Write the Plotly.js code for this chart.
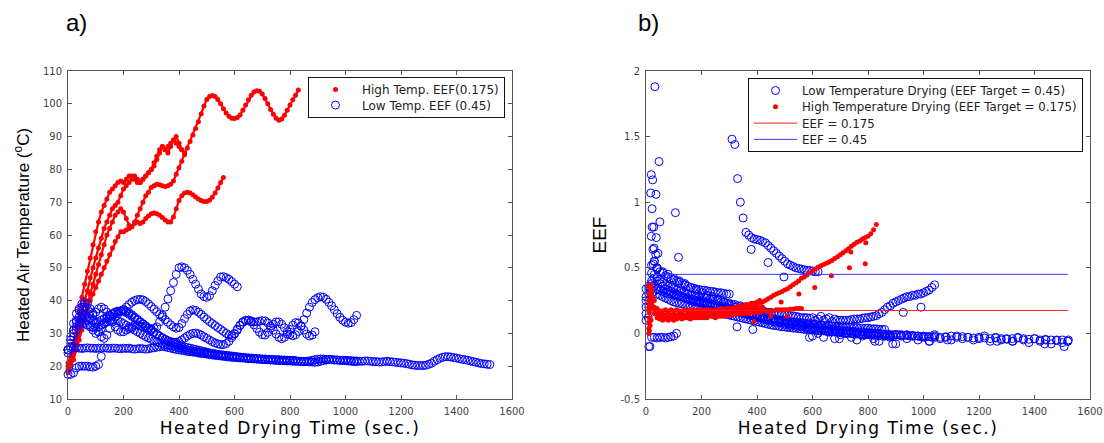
<!DOCTYPE html>
<html><head><meta charset="utf-8">
<script src="https://cdn.plot.ly/plotly-3.0.1.min.js"></script>
<style>html,body{margin:0;padding:0;background:#fff}#chart{width:1104px;height:443px}</style>
</head><body><div id="chart"></div>
<script>
// sampling grids (seconds)
const T10 = [0,10,20,30,40,50,60,70,80,90,100,110,120,130,140,150,160,170,180,190,200,210,220,230,240,250,260,270,280,290,300,310,320,330,340,350,360,370,380,390,400,410,420,430,440,450,460,470,480,490,500,510,520,530,540,550,560,570,580,590,600,610,620,630,640,650,660,670,680,690,700,710,720,730,740,750,760,770,780,790,800,810,820,830,840,850,860,870,880,890,900,910,920,930,940,950,960,970,980,990,1000,1010,1020,1030,1040,1050,1060,1070,1080,1090,1100,1110,1120,1130,1140,1150,1160,1170,1180,1190,1200,1210,1220,1230,1240,1250,1260,1270,1280,1290,1300,1310,1320,1330,1340,1350,1360,1370,1380,1390,1400,1410,1420,1430,1440,1450,1460,1470,1480,1490,1500,1510,1520];
const T20 = [0,20,40,60,80,100,120,140,160,180,200,220,240,260,280,300,320,340,360,380,400,420,440,460,480,500,520,540,560,580,600,620,640,660,680,700,720,740,760,780,800,820,840,860,880,900,920,940,960,980,1000,1020,1040,1060,1080,1100,1120,1140,1160,1180,1200,1220,1240,1260,1280,1300,1320,1340,1360,1380,1400,1420,1440,1460,1480,1500,1520];

// ---- panel a) high temperature runs (deg C, on T10)
const hiTempA1 = [21,23,27,32,37,41,45,49,53,57, 61,64,67,69,71,73,74,75,76,76.5, 76,77,78,78,77,76,76,77,78,79, 80,82,84,86,87,86,87,88,89,88, 87,86,85];
const hiTempA2 = [20,22,25,29,33,36,40,43,47,50, 53,56,59,62,64,66,68,69,70,72, 74,75,76,77,78,77,76,77,78,79, 80,81,83,85,87,86,85,87,89,90, 88,86];
const hiTempA3 = [19,21,24,27,30,33,36,39,42,45, 48,51,54,57,60,62,64,66,67,68, 67,65,63,62.5,63.5,64,63.5,64,65,65.8, 66.5,66.7,66.5,66,65.3,64.6,64,64,65.5,68, 70.5,72,72.8,73,72.8,72.3,71.6,71,70.5,70.2, 70.2,70.6,71.5,72.8,74.3,76,77.5];
const hiTempA4 = [18,20,22,25,28,31,34,37,40,42, 44,46,48,50,52,54,56,58,59.5,61, 61,61.5,62,62.5,64,66,68,70,72,73, 74.5,75,75.5,75.3,75,74.8,75,75.5,76.5,78.5, 80.5,82.5,84.5,86.5,88.5,90.5,92.5,94.5,97,99.3, 101.3,102.2,102.5,102.2,101.3,100,98.5,97.2,96.2,95.6, 95.5,95.8,96.6,98,99.6,101.2,102.6,103.6,104,103.8, 103,101.6,100,98.3,96.8,95.6,95,95.4,96.5,98, 99.6,101.2,102.6,104.2];

// ---- panel a) low temperature runs (deg C, on T10)
const loTempA1 = [25,25.5,25.5,25.6,25.5,25.4,25.5,25.6,25.5,25.5, 25.4,25.5,25.5,25.6,25.5,25.4,25.5,25.5,25.4,25.3, 25.5,25.4,25.5,25.3,25.2,25.3,25.4,25.3,25.2,25.3, 25.5,25.6,25.8,25.9,26,25.9,25.7,25.5,25.3,25.1, 25,24.8,24.7,24.5,24.4,24.3,24.2,24,23.9,23.8, 23.7,23.5,23.4,23.3,23.2,23.1,23,22.9,22.8,22.7, 22.6,22.6,22.5,22.5,22.4,22.3,22.3,22.2,22.2,22.1, 22.1,22,22,21.9,21.9,21.8,21.8,21.8,21.7,21.7, 21.7,21.6,21.6,21.5,21.5,21.4,21.4,21.3,21.3,21.2, 21.3,21.5,21.7,21.9,22,22,21.9,21.9,21.8,21.8, 21.7,21.6,21.5,21.4,21.4,21.5,21.5,21.6,21.6,21.5, 21.4,21.4,21.3,21.3,21.4,21.5,21.4,21.3,21.2,21.1, 21,20.9,20.8,20.6,20.4,20.3,20.2,20.2,20.2,20.3, 20.6,20.9,21.5,22,22.4,22.7,22.9,22.9,22.8,22.6, 22.5,22.3,22.1,22,21.8,21.6,21.4,21.2,21,20.8, 20.7,20.6,20.5];
const loTempA2 = [17.5,17.5,18,19.5,20,20,20,20,19.8,19.7,20,20.5,23];
const loTempA3 = [25,28,31,34,37,39,39.5,39,37.5,35.5, 33,30.5,29,28.5,29.5,31.5,33.5,35,36,36.8, 37,36.8,36.3,35.7,35,34.3,33.6,33,32.3,31.6, 31,30.3,29.7,29.1,28.6,28.1,27.7,27.3,27,26.7, 26.4,26.1,25.9,25.7,25.5,25.3,25.1,24.9,24.7,24.5, 24.3,24.1,23.9,23.8,23.6,23.5,23.4,23.3,23.2,23.1, 23,22.9,22.8,22.7,22.6,22.5,22.5,22.4,22.3,22.3, 22.2,22.2,22.1,22.1,22,22,22,21.9,21.9,21.8, 21.8,21.8,21.7];
const loTempA4 = [25,29,33,36,37.5,38,38,37.5,36.5,36, 36.5,37.5,38,37.5,36.5,35,33.5,32,31,30.5, 30.5,31,31.5,32,32.5,32.5,32.3,32,31.7,31.5, 31.4,31.5,32,33.5,35.5,38,40.5,43,45.5,48, 50,50.3,50,49.2,48,46.5,45,43.5,42,41.2, 41,41.5,43,44.6,46,47.2,47.3,47,46.5,45.8, 45,44.2];
const loTempA5 = [25,28,31,33.5,35,36,35.5,34,32.5,31, 30,30.5,31.5,33,34.5,35.5,36,36.3,36.5,36.8, 37.3,38,38.8,39.5,40,40.3,40.4,40.2,39.7,39, 38.2,37.4,36.6,35.8,35,34.2,33.4,32.6,32,31.6, 31.8,33,34.5,35.8,36.8,37.2,37,36.5,35.8,35, 34.3,33.6,33,32.4,31.8,31.2,30.6,30,29.5,29.3, 29.8,31,32.4,33.5,34,34,33.5,32.6,31.5,30.4, 29.6,29.5,30.3,31.6,32.8,33.5,33.5,32.8,31.7,30.5, 29.6,29.3,29.6,30.6,32.2,34.2,36.2,38,39.4,40.3, 40.9,41.2,41,40.4,39.5,38.4,37.2,36,34.9,34, 33.4,33.1,33.3,34.2,35.5];
const loTempA6 = [25,27,30,32,33.5,34.5,35,35,34.5,34, 33.5,33.5,34,34.5,35,35.5,36,36.5,36.8,36.9, 36.7,36.3,35.8,35.2,34.6,34,33.4,32.8,32.2,31.6, 31,30.4,29.8,29.2,28.7,28.2,27.8,27.5,27.3,27.3, 27.5,28,28.6,29.2,29.7,30,30.1,29.9,29.5,29, 28.5,28,27.5,27.1,26.8,26.6,26.6,26.9,27.6,28.7, 30,31.3,32.5,33.4,33.9,34,33.8,33.5,33.5,33.7, 33.9,33.8,33.2,32.2,31,29.8,28.8,28.4,28.8,29.8, 31.2,32.5,33.3,33.2,32.3,31,29.8,29.2,29.5,30.5];
const loTempA7 = [24,26,29,31,32.5,33,33,32.5,32,31.8, 31.8,32,32.5,33,33.5,33.8,34,34,33.8,33.5, 33,32.5,32,31.5,31,30.5,30,29.5,29,28.6, 28.2,27.8,27.5,27.2,26.9,26.6,26.4,26.2,26,25.8, 25.6,25.4,25.2,25,24.8,24.6,24.5,24.4,24.2,24.1, 24,23.9,23.8,23.6,23.5,23.4,23.3,23.2,23.1,23, 22.9,22.8,22.7,22.6,22.5,22.5,22.4,22.3,22.2,22.2, 22.1,22,22,21.9,21.9,21.8,21.8,21.7,21.7,21.6, 21.6,21.5,21.5,21.5,21.4,21.4,21.5,21.6,21.8,22, 22.1,22.2,22.2,22.1,22,22,21.9,21.9,21.8,21.8, 21.8,21.7,21.7,21.6,21.6];

// ---- panel b) low temperature EEF runs
const loEefB1 = [0.34,0.52,0.49,0.47,0.45,0.42,0.4,0.38,0.35,0.33, 0.31,0.29,0.28,0.26,0.24,0.22,0.2,0.18,0.16,0.14, 0.12,0.11,0.1,0.09,0.08,0.07,0.06,0.055,0.05,0.04, 0.035,0.03,0.025,0.02,0.015,0.01,0.005,0.0,0.005,-0.005, 0.0,-0.01,-0.005,-0.01,-0.015,-0.01,-0.02,-0.01,-0.015,-0.02, -0.02,-0.025,-0.02,-0.03,-0.025,-0.02,-0.03,-0.025,-0.03,-0.035, -0.03,-0.035,-0.04,-0.035,-0.04,-0.045,-0.04,-0.035,-0.04,-0.045, -0.04,-0.05,-0.045,-0.05,-0.055,-0.05,-0.06]; // on T20
const loEefB2 = [null,-0.1,-0.03,-0.03,-0.035,-0.03,-0.03,-0.035,-0.03,-0.025,-0.02,0.0];
const loEefB3 = [0.28,0.36,0.46,0.55,0.5,0.47,0.46,0.44,0.43,0.42, 0.41,0.4,0.39,0.38,0.37,0.36,0.35,0.345,0.34,0.335, 0.33,0.33,0.325,0.32,0.32,0.315,0.31,0.31,0.305,0.3, 0.3,1.48,1.44,1.18,1.0,0.88,0.77,0.75,0.73,0.72, 0.715,0.71,0.7,0.69,0.67,0.65,0.63,0.61,0.59,0.57, 0.55,0.53,0.52,0.51,0.5,0.495,0.49,0.485,0.48,0.48, 0.475,0.47,0.47];
const loEefB4 = [0.2,0.3,0.4,0.45,0.43,0.41,0.39,0.37,0.36,0.35, 0.34,0.33,0.32,0.31,0.3,0.3,0.29,0.29,0.28,0.28, 0.27,0.27,0.27,0.26,0.26,0.25,0.25,0.24,0.24,0.23, 0.23,0.22,0.22,0.21,0.21,0.2,0.2,0.19,0.19,0.18, 0.18,0.17,0.17,0.165,0.16,0.16,0.155,0.15,0.15,0.145, 0.14,0.14,0.135,0.13,0.13,0.125,0.12,0.12,0.12,0.115, 0.12,0.1,0.11,0.13,0.1,0.11,0.12,0.09,0.11,0.1, 0.1,0.1,0.1,0.1,0.105,0.11,0.11,0.11,0.115,0.12, 0.12,0.125,0.13,0.135,0.15,0.16,0.18,0.2,0.21,0.23, 0.24,0.25,0.26,0.27,0.28,0.28,0.29,0.29,0.3,0.3, 0.31,0.32,0.33,0.35,0.37];
const loEefB5 = [0.15,0.25,0.35,0.42,0.4,0.38,0.36,0.34,0.33,0.32, 0.31,0.3,0.29,0.28,0.27,0.26,0.25,0.245,0.24,0.235, 0.23,0.225,0.22,0.215,0.21,0.205,0.2,0.195,0.19,0.185, 0.18,0.175,0.17,0.165,0.16,0.155,0.15,0.145,0.14,0.135, 0.13,0.125,0.12,0.12,0.115,0.11,0.11,0.105,0.1,0.1, 0.095,0.09,0.09,0.085,0.085,0.08,0.08,0.075,0.075,0.07, 0.07,0.07,0.065,0.065,0.06,0.06,0.06,0.055,0.055,0.055, 0.05,0.05,0.05,0.05,0.045,0.045,0.045,0.04,0.04,0.04, 0.04,0.035,0.035,0.035,0.03,0.03,0.03];
const loEefB6 = [0.1,0.2,0.3,0.32,0.3,0.29,0.28,0.27,0.26,0.25, 0.24,0.235,0.23,0.225,0.22,0.215,0.21,0.205,0.2,0.195, 0.19,0.185,0.18,0.175,0.17,0.165,0.16,0.155,0.15,0.145, 0.14,0.135,0.13,0.125,0.12,0.115,0.11,0.105,0.1,0.095, 0.09,0.085,0.08,0.075,0.07,0.065,0.06,0.06,0.055,0.05, 0.05,0.045,0.045,0.04,0.04,0.035,0.035,0.03,0.03,0.03, 0.025,0.025,0.02,0.02,0.02,0.015,0.015,0.01,0.01,0.01, 0.005,0.005,0.0,0.0,0.0,-0.005,-0.005,-0.005,-0.01,-0.01, -0.01,-0.01,-0.015,-0.015,-0.015,-0.02,-0.02,-0.02,-0.02,-0.025];
const loEefB7 = [0.25,0.34,0.38,0.36,0.34,0.33,0.32,0.31,0.3,0.3, 0.29,0.29,0.28,0.28,0.27,0.27,0.26,0.26,0.25,0.25, 0.24,0.24,0.23,0.23,0.22,0.22,0.21,0.21,0.2,0.2, 0.19,0.18,0.18,0.17,0.16,0.16,0.15,0.14,0.14,0.13, 0.12,0.12,0.11,0.11,0.1,0.1,0.09,0.09,0.085,0.08, 0.08,0.075,0.07,0.07,0.065,0.06,0.06,0.055,0.05,0.05, 0.045,0.045,0.04,0.04,0.035,0.035,0.03,0.03,0.03,0.025, 0.025,0.02,0.02,0.02,0.015,0.015,0.01,0.01,0.01,0.005, 0.005,0.005,0.0,0.0,0.0,-0.005,-0.005,-0.005,-0.01,-0.01, -0.01,-0.01,-0.015,-0.015,-0.015,-0.02,-0.02,-0.02,-0.02,-0.025, -0.025,-0.025,-0.025,-0.03,-0.03];
const loEefB8 = [null,null,null,null,null,null,null,null,null,null, null,null,null,null,null,null,null,null,null,null, null,null,null,null,null,null,null,null,null,null, -0.02,0.0,-0.03,0.01,-0.04,-0.01,0.0,-0.03,-0.05,-0.02, -0.01,-0.04,-0.06,-0.02,-0.03,-0.08,-0.01,-0.04,-0.02,-0.05, -0.03,-0.06,-0.01,-0.04,-0.03,-0.05,-0.02,-0.04,-0.03,-0.05, -0.04,-0.02,-0.06,-0.03,-0.05,-0.04,-0.06,-0.03,-0.05,-0.07, -0.04,-0.06,-0.05,-0.08,-0.05,-0.07,-0.06]; // on T20
const loEefOutT = [32,47,19,24,17,36,22,50,22,28,19,37,29,43,106,117,30,40,26,35,25,15,12,8,14, 379,440,497,385,328,589,697,825,889,927,991,1022,1086,1265,1322,1437,1507,1522];
const loEefOutV = [1.88,1.31,1.21,1.17,1.07,1.06,0.95,0.85,0.81,0.81,0.74,0.73,0.65,0.61,0.92,0.58,0.55,0.5,0.53,0.6,0.64,0.34,0.25,0.12,-0.1, 0.64,0.54,0.43,0.03,0.05,-0.03,-0.04,-0.06,-0.08,0.16,0.2,-0.06,-0.05,-0.06,-0.06,-0.08,-0.1,-0.05];

// ---- panel b) high temperature EEF runs (on T10)
const hiEefB1 = [null,0.3,0.32,0.2,0.16,0.15,0.14,0.14,0.15,0.14, 0.15,0.14,0.15,0.15,0.14,0.15,0.16,0.15,0.15,0.16, 0.15,0.16,0.16,0.15,0.16,0.16,0.17,0.16,0.17,0.17, 0.17,0.18,0.18,0.185,0.19,0.19,0.2,0.2,0.205,0.21, 0.22,0.23,0.24,0.25,0.265,0.275,0.29,0.3,0.31,0.32, 0.33,0.34,0.355,0.37,0.385,0.4,0.42,0.43,0.445,0.46, 0.475,0.49,0.505,0.515,0.525,0.535,0.545,0.555,0.57,0.585, 0.6,0.615,0.63,0.645,0.665,0.68,0.695,0.705,0.72,0.73, 0.74,0.76,0.79,0.83];
const hiEefB2 = [null,0.36,0.28,0.18,0.14,0.13,0.12,0.12,0.13,0.12, 0.12,0.13,0.12,0.12,0.13,0.12,0.13,0.13,0.12,0.13, 0.13,0.12,0.13,0.14,0.13,0.13,0.14,0.13,0.14,0.14, 0.14,0.14,0.15,0.15,0.15,0.15,0.16,0.15,0.16,0.16, 0.16,0.16,0.17,0.17,0.17,0.17,0.17,0.18,0.18,0.18, 0.18,0.18,0.185,0.185,0.19,0.19,0.19];
const hiEefB3 = [null,0.25,0.22,0.15,0.12,0.11,0.1,0.11,0.1,0.11, 0.1,0.11,0.12,0.11,0.12,0.12,0.11,0.12,0.13,0.12, 0.12,0.13,0.12,0.13,0.13,0.12,0.13,0.14,0.13,0.14, 0.14,0.14,0.15,0.15,0.16,0.16,0.17,0.17,0.18,0.18, 0.19,0.19,0.2];
const hiEefB4 = [null,0.2,0.34,0.25,0.19,0.17,0.17,0.18,0.17,0.18, 0.17,0.18,0.17,0.17,0.18,0.17,0.18,0.18,0.17,0.18, 0.18,0.17,0.18,0.18,0.17,0.18,0.18,0.19,0.18,0.19, 0.19,0.19,0.2,0.2,0.21,0.21,0.22,0.22,0.23,0.23, 0.24,0.25];
const hiEefOutT = [10,10,11,12,12,13,14,15,15,16,17,18,18,20,20,22,25,14,16,12, 389,449,487,509,551,608,668,733,738,790,792];
const hiEefOutV = [0.0,0.04,0.08,0.12,0.02,0.18,0.22,0.26,0.06,0.3,0.34,0.37,0.1,0.33,0.24,0.28,0.27,0.1,0.2,0.16, 0.09,0.13,0.24,0.13,0.3,0.35,0.44,0.5,0.62,0.53,0.69];

// ---- target lines
const targetT = [0,1520];
const targetHigh = [0.175,0.175];
const targetLow = [0.45,0.45];

// ---- ticks
const xTicks = [0,200,400,600,800,1000,1200,1400,1600];
const yTicksA = [10,20,30,40,50,60,70,80,90,100,110];
const yTicksB = [-0.5,0,0.5,1,1.5,2];
const yTickTextB = ['-0.5','0','0.5','1','1.5','2'];

// runs are joined with null breaks so that connecting lines never jump between runs
function gather(list){
  const x=[],y=[];
  list.forEach(([grid,vals],k)=>{
    if(k>0){ x.push(null); y.push(null); }
    vals.forEach((v,i)=>{ if(i<grid.length){ x.push(v===null?null:grid[i]); y.push(v);} });
  });
  return {x,y};
}
function withPairs(g, ts, vs){
  return {x:g.x.concat([null], ts), y:g.y.concat([null], vs)};
}

const hiA = gather([[T10,hiTempA1],[T10,hiTempA2],[T10,hiTempA3],[T10,hiTempA4]]);
const loA = gather([[T10,loTempA1],[T10,loTempA2],[T10,loTempA3],[T10,loTempA4],[T10,loTempA5],[T10,loTempA6],[T10,loTempA7]]);
const loB = withPairs(gather([[T20,loEefB1],[T10,loEefB2],[T10,loEefB3],[T10,loEefB4],[T10,loEefB5],[T10,loEefB6],[T10,loEefB7],[T20,loEefB8]]), loEefOutT, loEefOutV);
const hiB = withPairs(gather([[T10,hiEefB1],[T10,hiEefB2],[T10,hiEefB3],[T10,hiEefB4]]), hiEefOutT, hiEefOutV);

const RED='#ff0000', BLUE='#0000ff';
const traces = [
  // legend entry for the high-temperature runs (dot symbol only)
  {x:[null],y:[null],type:'scatter',mode:'markers',name:'High Temp. EEF(0.175)',xaxis:'x',yaxis:'y',legend:'legend',
   marker:{symbol:'circle',size:5,color:RED}},
  {x:hiA.x,y:hiA.y,type:'scatter',mode:'lines+markers',name:'High Temp. EEF(0.175)',showlegend:false,xaxis:'x',yaxis:'y',cliponaxis:false,
   connectgaps:false, line:{color:RED,width:2.2}, marker:{symbol:'circle',size:5,color:RED}},
  {x:loA.x,y:loA.y,type:'scatter',mode:'markers',name:'Low Temp. EEF (0.45)',xaxis:'x',yaxis:'y',legend:'legend',cliponaxis:false,
   marker:{symbol:'circle-open',size:8,color:BLUE,line:{width:1,color:BLUE}}},
  {x:loB.x,y:loB.y,type:'scatter',mode:'markers',name:'Low Temperature Drying (EEF Target = 0.45)',xaxis:'x2',yaxis:'y2',legend:'legend2',cliponaxis:false,
   marker:{symbol:'circle-open',size:8,color:BLUE,line:{width:1,color:BLUE}}},
  {x:hiB.x,y:hiB.y,type:'scatter',mode:'markers',name:'High Temperature Drying (EEF Target = 0.175)',xaxis:'x2',yaxis:'y2',legend:'legend2',cliponaxis:false,
   marker:{symbol:'circle',size:5,color:RED}},
  {x:targetT,y:targetHigh,type:'scatter',mode:'lines',name:'EEF = 0.175',xaxis:'x2',yaxis:'y2',legend:'legend2',line:{color:'#ff1a1a',width:1}},
  {x:targetT,y:targetLow,type:'scatter',mode:'lines',name:'EEF = 0.45',xaxis:'x2',yaxis:'y2',legend:'legend2',line:{color:'#3a3aff',width:1}}
];

const axisCommon = {
  showline:true, linecolor:'#555', linewidth:1, mirror:'ticks',
  ticks:'inside', ticklen:4, tickwidth:1, tickcolor:'#555',
  showgrid:false, zeroline:false, tickmode:'array',
  tickfont:{family:'DejaVu Sans, sans-serif', size:10, color:'#444'},
  ticklabelstandoff:3
};
const xTitleFont = {family:'DejaVu Sans, sans-serif', size:17, color:'#000'};
const yTitleFont = {family:'Liberation Sans, Arial, sans-serif', size:17, color:'#000'};

const yDom = [44/443, 372/443];
const layout = {
  width:1104, height:443, margin:{l:0,r:0,t:0,b:0},
  paper_bgcolor:'#fff', plot_bgcolor:'#fff', showlegend:true,
  xaxis:Object.assign({}, axisCommon, {domain:[68/1104,512/1104], range:[0,1600], tickvals:xTicks, anchor:'y',
    title:{text:'Heated Drying Time (sec.)', font:xTitleFont, standoff:6}}),
  yaxis:Object.assign({}, axisCommon, {domain:yDom, range:[10,110], tickvals:yTicksA, anchor:'x',
    title:{text:'Heated Air Temperature (<sup>o</sup>C)', font:yTitleFont, standoff:8}}),
  xaxis2:Object.assign({}, axisCommon, {domain:[646/1104,1090/1104], range:[0,1600], tickvals:xTicks, anchor:'y2',
    title:{text:'Heated Drying Time (sec.)', font:xTitleFont, standoff:6}}),
  yaxis2:Object.assign({}, axisCommon, {domain:yDom, range:[-0.5,2], tickvals:yTicksB, ticktext:yTickTextB, anchor:'x2',
    title:{text:'EEF', font:{family:'Liberation Sans, Arial, sans-serif', size:19, color:'#000'}, standoff:8}}),
  legend:{x:505/1104, xanchor:'right', y:1-77/443, yanchor:'top', bgcolor:'#fff', bordercolor:'#111', borderwidth:1,
    font:{family:'DejaVu Sans, sans-serif', size:12, color:'#222'}, itemwidth:43, tracegroupgap:0},
  legend2:{x:1083/1104, xanchor:'right', y:1-78/443, yanchor:'top', bgcolor:'#fff', bordercolor:'#111', borderwidth:1,
    font:{family:'DejaVu Sans, sans-serif', size:11.8, color:'#222'}, itemwidth:43, tracegroupgap:0},
  annotations:[
    {text:'a)', x:76/1104, y:1-22/443, xref:'paper', yref:'paper', xanchor:'center', yanchor:'middle', showarrow:false, font:{family:'Liberation Sans, Arial, sans-serif', size:24, color:'#000'}},
    {text:'b)', x:648/1104, y:1-22/443, xref:'paper', yref:'paper', xanchor:'center', yanchor:'middle', showarrow:false, font:{family:'Liberation Sans, Arial, sans-serif', size:24, color:'#000'}}
  ]
};

// tighten legend rows to the reference's spacing
function tightenLegend(cls, step, lift){
  const lg = document.querySelector('g.' + cls);
  if(!lg) return;
  const items = Array.from(lg.querySelectorAll('g.traces'));
  if(items.length < 2) return;
  const pos = items.map(it => {
    const m = /translate\(\s*([-\d.]+)[ ,]+([-\d.]+)/.exec(it.getAttribute('transform') || '');
    return m ? [parseFloat(m[1]), parseFloat(m[2])] : [0,0];
  });
  const oldStep = pos[1][1] - pos[0][1];
  items.forEach((it,i) => it.setAttribute('transform', 'translate(' + pos[i][0] + ',' + (pos[0][1] + i*step - lift) + ')'));
  const bg = lg.querySelector('rect.bg');
  if(bg){ const h = parseFloat(bg.getAttribute('height')); bg.setAttribute('height', h - (items.length-1)*(oldStep-step) - 2*lift); }
}

Plotly.newPlot('chart', traces, layout, {staticPlot:true, displayModeBar:false}).then(() => {
  document.querySelectorAll('text.xtitle, text.x2title').forEach(t => { t.style.letterSpacing = '1.5px'; });
  tightenLegend('legend', 15.6, 3);
  tightenLegend('legend2', 16.3, 3);
});
</script></body></html>
